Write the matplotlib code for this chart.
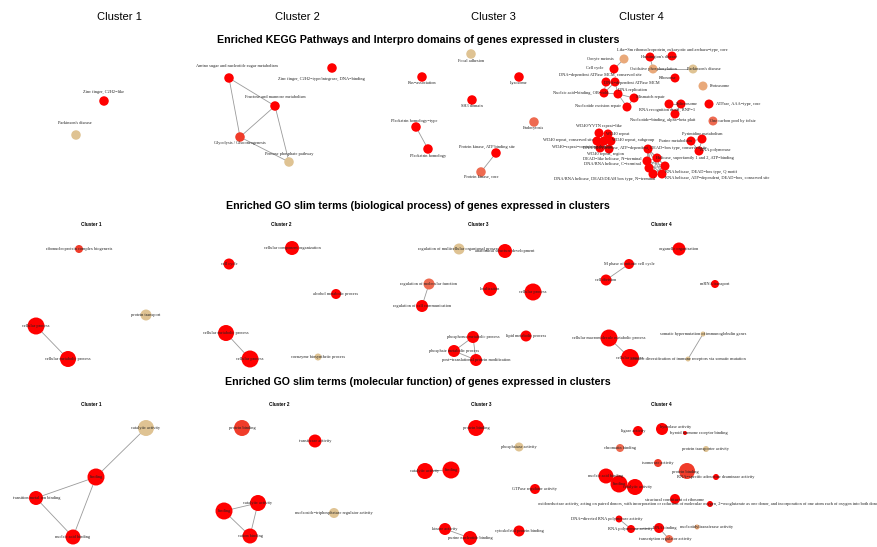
import matplotlib.pyplot as plt

W, H = 877, 547
palette = ['#FF0000', '#F03C2A', '#EE6A50', '#E9A97A', '#DFC393']
edge_col = '#9A9A9A'

# ---------------- KEGG / Interpro ----------------
kegg1_terms = ["Zinc finger, C2H2\u2212like", "Parkinson's disease"]
kegg1_level = [0, 4]
kegg1_edges = []

kegg2_terms = ["Amino sugar and nucleotide sugar metabolism",
               "Zinc finger, C2H2\u2212type/integrase, DNA\u2212binding",
               "Fructose and mannose metabolism",
               "Glycolysis / Gluconeogenesis",
               "Pentose phosphate pathway"]
kegg2_level = [0, 0, 0, 1, 4]
kegg2_edges = [(0, 2), (0, 3), (2, 3), (2, 4), (3, 4)]

kegg3_terms = ["Focal adhesion", "Ras\u2212association", "Lysosome", "SH3 domain",
               "Pleckstrin homology\u2212type", "Pleckstrin homology", "Endocytosis",
               "Protein kinase, ATP binding site", "Protein kinase, core"]
kegg3_level = [4, 0, 0, 0, 0, 0, 2, 0, 2]
kegg3_edges = [(4, 5), (7, 8)]

kegg4_terms = ["Like\u2212Sm ribonucleoprotein, eukaryotic and archaea\u2212type, core",
               "Huntington's disease", "Oocyte meiosis", "Cell cycle",
               "Oxidative phosphorylation", "Parkinson's disease", "Ribosome", "Proteasome",
               "DNA\u2212dependent ATPase MCM, conserved site", "DNA\u2212dependent ATPase MCM",
               "Nucleic acid\u2212binding, OB\u2212fold", "DNA replication", "Mismatch repair",
               "Nucleotide excision repair", "Spliceosome", "RNA recognition motif, RNP\u22121",
               "Nucleotide\u2212binding, alpha\u2212beta plait", "ATPase, AAA\u2212type, core",
               "One carbon pool by folate",
               "WD40/YVTN repeat\u2212like", "WD40 repeat", "WD40 repeat, conserved site",
               "WD40 repeat, subgroup", "WD40\u2212repeat\u2212containing domain", "WD40 repeat, region",
               "WD40 repeat 2",
               "Pyrimidine metabolism", "Purine metabolism", "RNA polymerase",
               "DNA/RNA helicase, ATP\u2212dependent, DEAD\u2212box type, conserved site",
               "Helicase, superfamily 1 and 2, ATP\u2212binding",
               "DEAD\u2212like helicase, N\u2212terminal", "DNA/RNA helicase, C\u2212terminal",
               "RNA helicase, DEAD\u2212box type, Q motif",
               "DNA/RNA helicase, DEAD/DEAH box type, N\u2212terminal",
               "RNA helicase, ATP\u2212dependent, DEAD\u2212box, conserved site"]
kegg4_level = [0, 0, 3, 0, 3, 4, 0, 3, 0, 0, 0, 0, 0, 0, 0, 0, 0, 0, 2,
               0, 0, 0, 0, 0, 0, 0, 0, 0, 0, 0, 0, 0, 0, 0, 0, 0]
wd = list(range(19, 26))
hel = list(range(29, 36))
kegg4_edges = ([(2, 3), (1, 4), (4, 5), (8, 9), (8, 10), (9, 10), (9, 11), (10, 11),
                (11, 12), (11, 13), (12, 13), (14, 15), (14, 16), (15, 16),
                (26, 27), (26, 28), (27, 28)]
               + [(a, b) for i, a in enumerate(wd) for b in wd[i + 1:]]
               + [(a, b) for i, a in enumerate(hel) for b in hel[i + 1:]])

# ---------------- GO biological process ----------------
bp1_terms = ["ribonucleoprotein complex biogenesis", "protein transport",
             "cellular process", "cellular metabolic process"]
bp1_level = [1, 4, 0, 0]
bp1_weight = [8, 11, 17, 16]
bp1_edges = [(2, 3)]

bp2_terms = ["cellular component organization", "cell cycle", "alcohol metabolic process",
             "cellular metabolic process", "cellular process", "coenzyme biosynthetic process"]
bp2_level = [0, 0, 0, 0, 0, 4]
bp2_weight = [14, 11, 10, 16, 17, 7]
bp2_edges = [(3, 4)]

bp3_terms = ["regulation of multicellular organismal process", "anatomical structure development",
             "regulation of molecular function", "regulation of cell communication",
             "localization", "cellular process", "phosphorus metabolic process",
             "phosphate metabolic process", "post\u2212translational protein modification",
             "lipid metabolic process"]
bp3_level = [4, 0, 2, 0, 0, 0, 0, 0, 0, 0]
bp3_weight = [11, 14, 11, 12, 14, 17, 12, 12, 12, 11]
bp3_edges = [(2, 3), (6, 7), (6, 8), (7, 8)]

bp4_terms = ["organelle organization", "M phase of mitotic cell cycle", "cell division",
             "mRNA transport", "cellular macromolecule metabolic process", "cellular process",
             "somatic hypermutation of immunoglobulin genes",
             "somatic diversification of immune receptors via somatic mutation"]
bp4_level = [0, 0, 0, 0, 0, 0, 4, 4]
bp4_weight = [13, 10, 11, 8, 17, 18, 5, 5]
bp4_edges = [(1, 2), (4, 5), (6, 7)]

# ---------------- GO molecular function ----------------
mf1_terms = ["catalytic activity", "binding", "transition metal ion binding", "nucleic acid binding"]
mf1_level = [4, 0, 0, 0]
mf1_weight = [16, 17, 14, 15]
mf1_edges = [(0, 1), (1, 2), (1, 3), (2, 3)]

mf2_terms = ["protein binding", "transferase activity", "binding", "catalytic activity",
             "cation binding", "nucleoside\u2212triphosphatase regulator activity"]
mf2_level = [1, 0, 0, 0, 0, 4]
mf2_weight = [16, 13, 17, 16, 15, 10]
mf2_edges = [(2, 3), (2, 4), (3, 4)]

mf3_terms = ["protein binding", "phosphatase activity", "catalytic activity", "binding",
             "GTPase regulator activity", "kinase activity", "purine nucleotide binding",
             "cytoskeletal protein binding"]
mf3_level = [0, 4, 0, 0, 0, 0, 0, 0]
mf3_weight = [16, 9, 16, 17, 10, 12, 14, 11]
mf3_edges = [(2, 3), (5, 6)]

mf4_terms = ["ligase activity", "hydrolase activity", "thyroid hormone receptor binding",
             "chromatin binding", "protein transporter activity", "isomerase activity",
             "nucleic acid binding", "protein binding", "RNA\u2212specific adenosine deaminase activity",
             "binding", "catalytic activity", "structural constituent of ribosome",
             "oxidoreductase activity, acting on paired donors, with incorporation or reduction of "
             "molecular oxygen, 2\u2212oxoglutarate as one donor, and incorporation of one atom each "
             "of oxygen into both donors",
             "DNA\u2212directed RNA polymerase activity", "RNA polymerase activity",
             "DNA binding", "nucleotidyltransferase activity", "transcription regulator activity"]
mf4_level = [0, 0, 0, 2, 4, 1, 0, 1, 0, 0, 0, 0, 0, 0, 0, 0, 3, 2]
mf4_weight = [10, 12, 4, 8, 6, 8, 15, 16, 6, 17, 16, 10, 6, 7, 8, 10, 5, 8]
mf4_edges = [(13, 14), (14, 15), (15, 17), (6, 9), (9, 10)]

# ---------------- layouts (pixel space of the sheet) ----------------
lay = {
    'kegg1': [(104, 101), (76, 135)],
    'kegg2': [(229, 78), (332, 68), (275, 106), (240, 137), (289, 162)],
    'kegg3': [(471, 54), (422, 77), (519, 77), (472, 100), (416, 127), (428, 149),
              (534, 122), (496, 153), (481, 172)],
    'kegg4': [(672, 56), (650, 57), (624, 59), (614, 69), (653, 69), (693, 69), (675, 78),
              (703, 86), (606, 82), (615, 82), (604, 93), (618, 94), (634, 98), (627, 107),
              (681, 104), (669, 104), (675, 114), (709, 104), (713, 121),
              (599, 133), (608, 134), (597, 141), (611, 141), (600, 148), (609, 149), (604, 141),
              (702, 139), (691, 141), (699, 151),
              (648, 149), (657, 158), (647, 161), (649, 168), (665, 166), (653, 174), (662, 174)],
    'bp1': [(79, 249), (146, 315), (36, 326), (68, 359)],
    'bp2': [(292, 248), (229, 264), (336, 294), (226, 333), (250, 359), (318, 357)],
    'bp3': [(459, 249), (505, 251), (429, 284), (422, 306), (490, 289), (533, 292),
            (473, 337), (454, 351), (476, 360), (526, 336)],
    'bp4': [(679, 249), (629, 264), (606, 280), (715, 284), (609, 338), (630, 358),
            (703, 334), (688, 359)],
    'mf1': [(146, 428), (96, 477), (36, 498), (73, 537)],
    'mf2': [(242, 428), (315, 441), (224, 511), (258, 503), (250, 536), (334, 513)],
    'mf3': [(476, 428), (519, 447), (425, 471), (451, 470), (535, 489), (445, 529),
            (470, 538), (519, 531)],
    'mf4': [(638, 431), (662, 429), (685, 433), (620, 448), (706, 449), (658, 463),
            (606, 476), (687, 471), (716, 477), (619, 484), (635, 487), (675, 499),
            (710, 504), (619, 519), (631, 529), (659, 528), (697, 527), (669, 539)],
}
# label anchors where they sit away from the node
lab = {
    'kegg1': [(104, 92), (75, 123)],
    'kegg2': [(237, 66), (321, 79), (275, 97), (240, 143), (289, 154)],
    'kegg3': [(471, 61), (422, 83), (519, 83), (472, 106), (414, 121), (428, 156),
              (533, 128), (487, 147), (481, 177)],
    'kegg4': [(672, 50), (659, 57), (600, 59), (595, 68), (653, 69), (704, 69), (668, 78),
              (720, 86), (600, 75), (632, 83), (581, 93), (632, 90), (650, 97), (598, 106),
              (687, 104), (667, 110), (663, 120), (738, 104), (733, 121),
              (599, 126), (618, 134), (568, 140), (633, 140), (582, 147), (605, 154), (0, 0),
              (702, 134), (675, 141), (715, 150),
              (645, 148), (695, 158), (612, 159), (612, 164), (701, 172), (605, 179), (717, 178)],
    'mf4': [(633, 431), (676, 427), (698, 433), (620, 448), (706, 449), (658, 463),
            (606, 476), (685, 472), (716, 477), (619, 484), (638, 487), (675, 500),
            (710, 504), (607, 519), (630, 529), (665, 528), (707, 527), (665, 539)],
}

fig = plt.figure(figsize=(W / 100, H / 100), dpi=100)
ax = fig.add_axes([0, 0, 1, 1])
ax.set_xlim(0, W)
ax.set_ylim(H, 0)
ax.axis('off')

serif = 'Liberation Serif'
sans = 'Liberation Sans'


def draw(key, terms, level, edges, weight=None):
    pos = lay[key]
    if weight is None:
        weight = [9.5] * len(terms)
    for a, b in edges:
        ax.plot([pos[a][0], pos[b][0]], [pos[a][1], pos[b][1]], color=edge_col, lw=0.6, zorder=1)
    ax.scatter([p[0] for p in pos], [p[1] for p in pos],
               s=[(0.72 * w) ** 2 for w in weight],
               c=[palette[l] for l in level], edgecolors='none', zorder=2)
    lp = lab.get(key, pos)
    for t, (x, y) in zip(terms, lp):
        if x == 0:
            continue
        ax.text(x, y, t, ha='center', va='center', fontsize=3.2,
                family=serif, color='#222222', zorder=3)


draw('kegg1', kegg1_terms, kegg1_level, kegg1_edges)
draw('kegg2', kegg2_terms, kegg2_level, kegg2_edges)
draw('kegg3', kegg3_terms, kegg3_level, kegg3_edges)
draw('kegg4', kegg4_terms, kegg4_level, kegg4_edges, [9] * len(kegg4_terms))
draw('bp1', bp1_terms, bp1_level, bp1_edges, bp1_weight)
draw('bp2', bp2_terms, bp2_level, bp2_edges, bp2_weight)
draw('bp3', bp3_terms, bp3_level, bp3_edges, bp3_weight)
draw('bp4', bp4_terms, bp4_level, bp4_edges, bp4_weight)
draw('mf1', mf1_terms, mf1_level, mf1_edges, mf1_weight)
draw('mf2', mf2_terms, mf2_level, mf2_edges, mf2_weight)
draw('mf3', mf3_terms, mf3_level, mf3_edges, mf3_weight)
draw('mf4', mf4_terms, mf4_level, mf4_edges, mf4_weight)

# headers
clusters = ["Cluster 1", "Cluster 2", "Cluster 3", "Cluster 4"]
for name, x in zip(clusters, [119, 297, 493, 641]):
    ax.text(x, 17, name, ha='center', va='center', fontsize=8, family=sans)
for name, x in zip(clusters, [91, 281, 478, 661]):
    ax.text(x, 225, name, ha='center', va='center', fontsize=3.4, family=sans, weight='bold')
for name, x in zip(clusters, [91, 279, 481, 661]):
    ax.text(x, 404, name, ha='center', va='center', fontsize=3.4, family=sans, weight='bold')

titles = ["Enriched KEGG Pathways and Interpro domains of genes expressed in clusters",
          "Enriched GO slim terms (biological process) of genes expressed in clusters",
          "Enriched GO slim terms (molecular function) of genes expressed in clusters"]
for t, y in zip(titles, [40, 206, 382]):
    ax.text(418, y, t, ha='center', va='center', fontsize=7.7, family=sans, weight='bold')

fig.savefig('out.png', dpi=100)
